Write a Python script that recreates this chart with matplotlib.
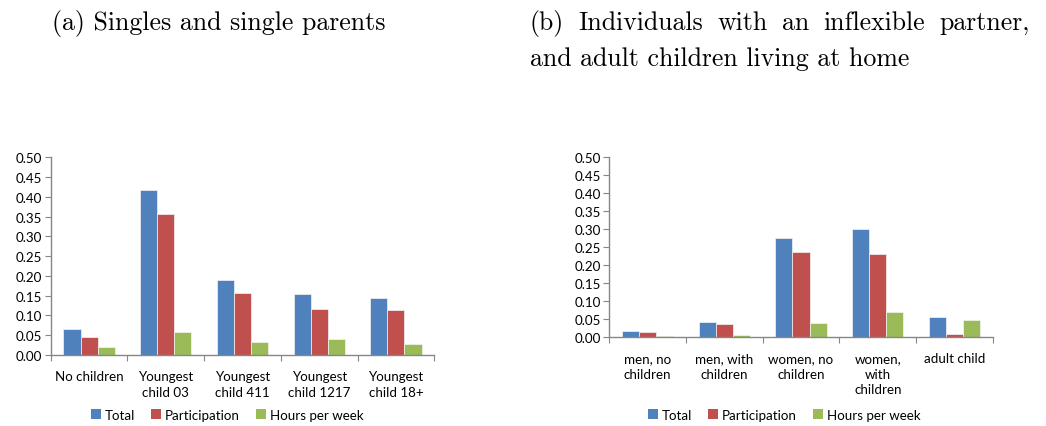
import matplotlib
matplotlib.use("Agg")
import matplotlib.pyplot as plt
import numpy as np
from matplotlib.patches import Patch

# ---- data ----
series_names = ["Total", "Participation", "Hours per week"]
colors = ["#4F81BD", "#C0504D", "#9BBB59"]

cats_a = ["No children", "Youngest\nchild 03", "Youngest\nchild 411", "Youngest\nchild 1217", "Youngest\nchild 18+"]
total_a = [0.066, 0.417, 0.190, 0.155, 0.143]
part_a = [0.046, 0.357, 0.158, 0.116, 0.114]
hours_a = [0.019, 0.058, 0.033, 0.040, 0.029]

cats_b = ["men, no\nchildren", "men, with\nchildren", "women, no\nchildren", "women,\nwith\nchildren", "adult child"]
total_b = [0.018, 0.043, 0.276, 0.301, 0.055]
part_b = [0.015, 0.037, 0.237, 0.232, 0.007]
hours_b = [0.003, 0.006, 0.040, 0.069, 0.047]

yticks = [0.00, 0.05, 0.10, 0.15, 0.20, 0.25, 0.30, 0.35, 0.40, 0.45, 0.50]

title_a = "(a) Singles and single parents"
title_b_line1 = "(b) Individuals with an inflexible partner,"
title_b_line2 = "and adult children living at home"

W, H = 1046, 427
fig = plt.figure(figsize=(W / 100, H / 100), dpi=100)
TF = "Lato"
FS = 9.6
axcol = "#868686"


def draw(ax, cats, vals, legend_x):
    n = len(cats)
    x = np.arange(n)
    bw = 1 / 4.5
    for i, (v, c) in enumerate(zip(vals, colors)):
        ax.bar(x + (i - 1) * bw, v, width=bw, color=c, edgecolor="#f4f4f4", linewidth=0.5)
    ax.set_xlim(-0.5, n - 0.5)
    ax.set_ylim(0, 0.5)
    ax.set_yticks(yticks)
    ax.set_yticklabels([f"{t:.2f}" for t in yticks], fontfamily=TF, fontsize=FS, color="#000000")
    ax.set_xticks(np.arange(n + 1) - 0.5)
    ax.set_xticklabels([])
    ax.set_xticks(x, minor=True)
    ax.set_xticklabels(cats, minor=True, fontfamily=TF, fontsize=FS, linespacing=1.33, va="top")
    ax.tick_params(axis="x", which="minor", length=0, pad=11)
    ax.tick_params(axis="x", which="major", length=4, color=axcol, direction="out")
    ax.tick_params(axis="y", length=4, color=axcol, direction="out", pad=2)
    for s in ["top", "right"]:
        ax.spines[s].set_visible(False)
    for s in ["left", "bottom"]:
        ax.spines[s].set_color(axcol)
        ax.spines[s].set_linewidth(1.0)
    handles = [Patch(facecolor=c, edgecolor="none") for c in colors]
    ax.legend(handles, series_names, loc="center", bbox_to_anchor=(legend_x / W, 1 - 416 / H),
              bbox_transform=fig.transFigure, ncol=3, frameon=False,
              prop={"family": TF, "size": FS}, handlelength=0.75, handleheight=0.75,
              handletextpad=0.3, columnspacing=1.2, borderaxespad=0)


axa = fig.add_axes([50.7 / W, 1 - 356 / H, (434.3 - 50.7) / W, (356 - 158.3) / H])
draw(axa, cats_a, [total_a, part_a, hours_a], 227)
axb = fig.add_axes([609 / W, 1 - 338 / H, (993 - 609) / W, (338 - 158.3) / H])
draw(axb, cats_b, [total_b, part_b, hours_b], 784)

TFS = 18.6
fig.text(52 / W, 1 - 30 / H, title_a, fontfamily="cmr10", fontsize=TFS, va="baseline", ha="left")
fig.text(530 / W, 1 - 66 / H, title_b_line2, fontfamily="cmr10", fontsize=TFS, va="baseline", ha="left")

# justified first line of title (b): spread words between 530 and 1030 px
renderer = fig.canvas.get_renderer()
words = title_b_line1.split(" ")
texts = []
widths = []
for w_ in words:
    t = fig.text(0, 1 - 30 / H, w_, fontfamily="cmr10", fontsize=TFS, va="baseline", ha="left")
    texts.append(t)
    widths.append(t.get_window_extent(renderer).width)
left, right = 530, 1030
gap = (right - left - sum(widths)) / (len(words) - 1)
xpos = left
for t, wd in zip(texts, widths):
    t.set_x(xpos / W)
    xpos += wd + gap

fig.savefig("out.png", dpi=100)
